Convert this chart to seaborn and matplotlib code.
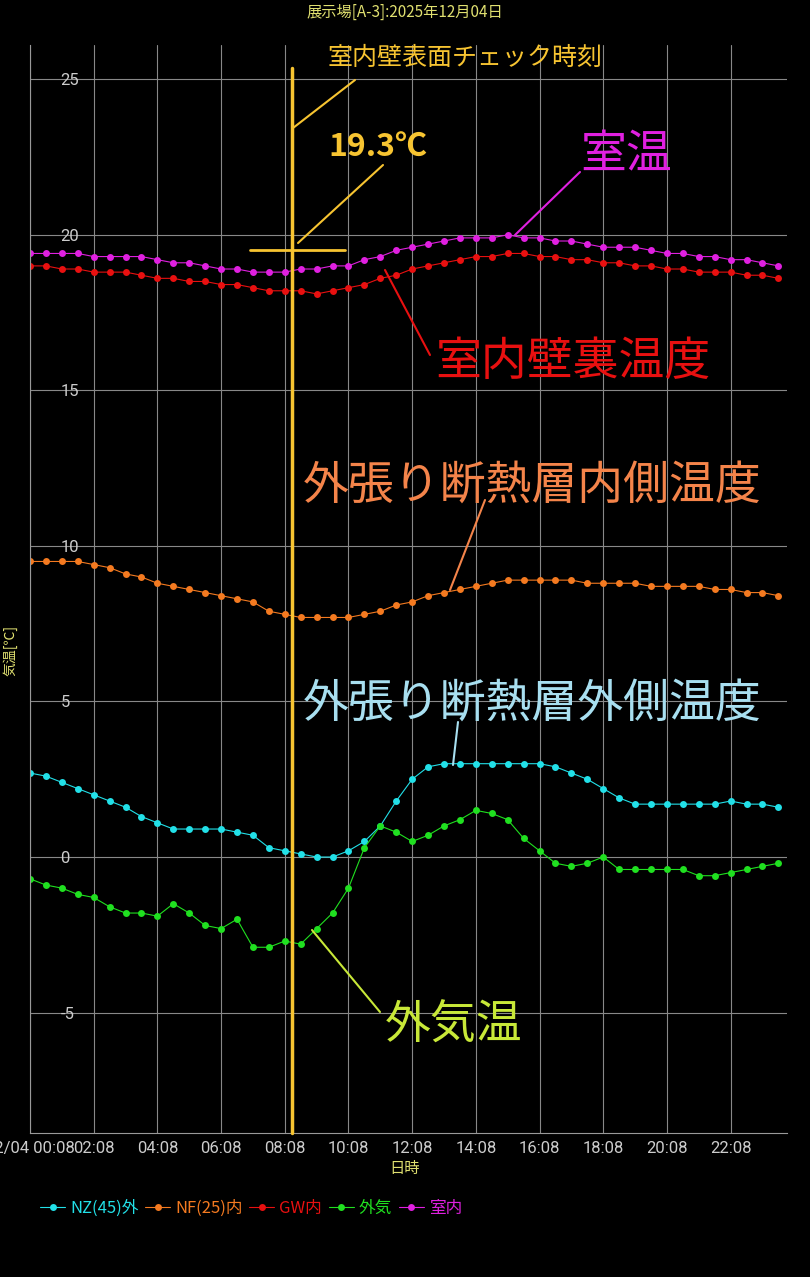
import numpy as np
import pandas as pd
import matplotlib
matplotlib.use("Agg")
import matplotlib.pyplot as plt
import seaborn as sns

sns.set_style("dark")
plt.rcParams['font.family'] = ['Noto Sans CJK JP', 'DejaVu Sans']

room = [19.4,19.4,19.4,19.4,19.3,19.3,19.3,19.3,19.2,19.1,19.1,19.0,18.9,18.9,18.8,18.8,18.8,18.9,18.9,19.0,
        19.0,19.2,19.3,19.5,19.6,19.7,19.8,19.9,19.9,19.9,20.0,19.9,19.9,19.8,19.8,19.7,19.6,19.6,19.6,19.5,
        19.4,19.4,19.3,19.3,19.2,19.2,19.1,19.0]
gw = [19.0,19.0,18.9,18.9,18.8,18.8,18.8,18.7,18.6,18.6,18.5,18.5,18.4,18.4,18.3,18.2,18.2,18.2,18.1,18.2,
      18.3,18.4,18.6,18.7,18.9,19.0,19.1,19.2,19.3,19.3,19.4,19.4,19.3,19.3,19.2,19.2,19.1,19.1,19.0,19.0,
      18.9,18.9,18.8,18.8,18.8,18.7,18.7,18.6]
nf = [9.5,9.5,9.5,9.5,9.4,9.3,9.1,9.0,8.8,8.7,8.6,8.5,8.4,8.3,8.2,7.9,7.8,7.7,7.7,7.7,
      7.7,7.8,7.9,8.1,8.2,8.4,8.5,8.6,8.7,8.8,8.9,8.9,8.9,8.9,8.9,8.8,8.8,8.8,8.8,8.7,
      8.7,8.7,8.7,8.6,8.6,8.5,8.5,8.4]
nz = [2.7,2.6,2.4,2.2,2.0,1.8,1.6,1.3,1.1,0.9,0.9,0.9,0.9,0.8,0.7,0.3,0.2,0.1,0.0,0.0,
      0.2,0.5,1.0,1.8,2.5,2.9,3.0,3.0,3.0,3.0,3.0,3.0,3.0,2.9,2.7,2.5,2.2,1.9,1.7,1.7,
      1.7,1.7,1.7,1.7,1.8,1.7,1.7,1.6]
outside = [-0.7,-0.9,-1.0,-1.2,-1.3,-1.6,-1.8,-1.8,-1.9,-1.5,-1.8,-2.2,-2.3,-2.0,-2.9,-2.9,-2.7,-2.8,-2.3,-1.8,
           -1.0,0.3,1.0,0.8,0.5,0.7,1.0,1.2,1.5,1.4,1.2,0.6,0.2,-0.2,-0.3,-0.2,0.0,-0.4,-0.4,-0.4,
           -0.4,-0.4,-0.6,-0.6,-0.5,-0.4,-0.3,-0.2]
series_names = ["NZ(45)外", "NF(25)内", "GW内", "外気", "室内"]
series_colors = ["#22e0e8", "#f47a20", "#e81010", "#20e020", "#e020e0"]
tick_hours = [0, 2, 4, 6, 8, 10, 12, 14, 16, 18, 20, 22]
tick_labels = ["12/04 00:08", "02:08", "04:08", "06:08", "08:08", "10:08", "12:08",
               "14:08", "16:08", "18:08", "20:08", "22:08"]
y_ticks = [-5, 0, 5, 10, 15, 20, 25]

W, H = 810, 1277
fig = plt.figure(figsize=(W/100, H/100), dpi=100, facecolor="black")
ax = fig.add_axes([30/W, 1-1133/H, (787-30)/W, (1133-45)/H])
ax.set_facecolor("black")

for name, vals, col in zip(series_names, [nz, nf, gw, outside, room], series_colors):
    df = pd.DataFrame({"t": np.arange(len(vals))*0.5, "v": vals})
    sns.lineplot(data=df, x="t", y="v", ax=ax, color=col, marker="o", markersize=5,
                 markeredgewidth=0, linewidth=0.8, label=name, legend=False)

ax.set_xlim(0, 23.77)
ax.set_ylim(-8.87, 26.1)
ax.set_xticks(tick_hours)
ax.set_xticklabels(tick_labels, color="#cccccc", fontsize=12, family=['Roboto', 'DejaVu Sans'])
ax.set_yticks(y_ticks)
ax.set_yticklabels([str(v) for v in y_ticks], color="#cccccc", fontsize=12, family=['Roboto', 'DejaVu Sans'])
ax.tick_params(axis='y', pad=-22, length=0)
ax.tick_params(axis='x', length=0, pad=6)
for lab in ax.get_yticklabels():
    lab.set_horizontalalignment("left")
ax.grid(True, color="#888888", linewidth=0.8)
for s in ["top", "right"]:
    ax.spines[s].set_visible(False)
for s in ["left", "bottom"]:
    ax.spines[s].set_color("#999999")
ax.set_xlabel("")
ax.set_ylabel("")

def fx(px): return px / W
def fy(py): return 1 - py / H

fig.text(fx(405), fy(12), "展示場[A-3]:2025年12月04日", color="#e0e070", fontsize=11, ha="center", va="center")
fig.text(fx(405), fy(1168), "日時", color="#e0e070", fontsize=11, ha="center", va="center")
fig.text(fx(10), fy(650), "気温[℃]", color="#e0e070", fontsize=10, ha="center", va="center", rotation=90)

gold = "#f7c431"
def line(p, q, c, lw=1.5):
    fig.add_artist(plt.Line2D([fx(p[0]), fx(q[0])], [fy(p[1]), fy(q[1])], color=c, linewidth=lw,
                              transform=fig.transFigure))
line((292, 68), (292, 1133), gold, 2.5)
line((250, 250), (345, 250), gold, 2)
line((355, 80), (293, 128), gold)
line((383, 165), (298, 243), gold)
fig.text(fx(328), fy(58), "室内壁表面チェック時刻", color=gold, fontsize=18, va="center")
fig.text(fx(328), fy(148), "19.3℃", color=gold, fontsize=23, fontweight="bold", va="center")

labels = [
    ("室温", (580, 155), "#e020e0", (580, 172), (515, 235)),
    ("室内壁裏温度", (435, 362), "#e81010", (430, 355), (385, 270)),
    ("外張り断熱層内側温度", (303, 485), "#f4844a", (485, 500), (450, 590)),
    ("外張り断熱層外側温度", (303, 703), "#a8dff0", (458, 722), (453, 765)),
    ("外気温", (385, 1025), "#c8e838", (380, 1012), (312, 930)),
]
for txt, pos, c, p, q in labels:
    fig.text(fx(pos[0]), fy(pos[1]), txt, color=c, fontsize=33, va="center")
    line(p, q, c)

handles, labs = ax.get_legend_handles_labels()
leg = fig.legend(handles, labs, loc="center left", bbox_to_anchor=(fx(25), fy(1208)), ncol=5,
                 frameon=False, fontsize=12, labelcolor="linecolor", handlelength=1.5,
                 handletextpad=0.3, columnspacing=0.4)
fig.savefig("out.png", dpi=100, facecolor="black")
